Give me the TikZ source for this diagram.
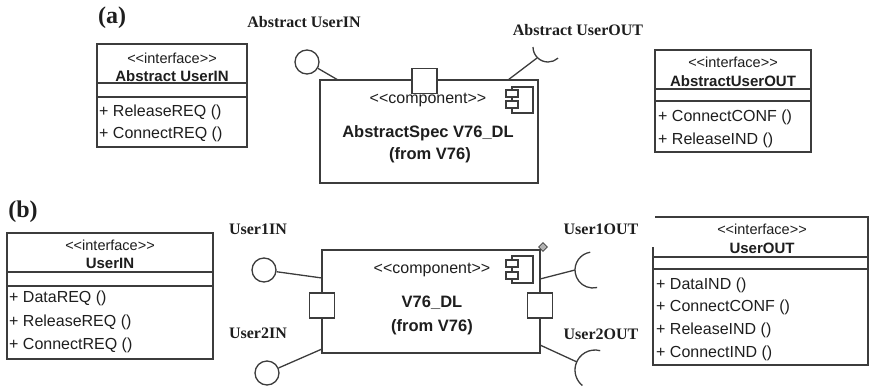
\documentclass[tikz,border=0pt]{standalone}
\usepackage{fontspec}
\setmainfont{Liberation Serif}
\newfontfamily\umlfont{Liberation Sans}
\usetikzlibrary{shapes.geometric}
\definecolor{ink}{HTML}{1E1E1E}
\definecolor{edge}{HTML}{3C3C3C}
\begin{document}
\begin{tikzpicture}[x=1pt,y=-1pt,
  line/.style={draw=edge, line width=1.3pt},
  boxline/.style={draw=edge, line width=1.5pt},
  ubox/.style={draw=edge, line width=1.5pt, rectangle, inner sep=0pt, fill=white},
  port/.style={draw=edge, line width=1.4pt, rectangle, inner sep=0pt, minimum size=25pt, fill=white},
  lolli/.style={draw=edge, line width=1.3pt, circle, inner sep=0pt, minimum size=24pt},
  tag/.style={font=\fontsize{24}{26}\selectfont\bfseries, text=ink, inner sep=0pt},
  lbl/.style={font=\fontsize{16}{18}\selectfont\bfseries, text=ink, inner sep=0pt},
  stereo/.style={font=\umlfont\fontsize{14.5}{16}\selectfont, text=ink, inner sep=0pt},
  iname/.style={font=\umlfont\fontsize{15}{17}\selectfont\bfseries, text=ink, inner sep=0pt},
  item/.style={font=\umlfont\fontsize{16}{18}\selectfont, text=ink, inner sep=0pt, anchor=west},
  ctext/.style={font=\umlfont\fontsize{16}{18}\selectfont, text=ink, inner sep=0pt},
  cname/.style={font=\umlfont\fontsize{16.5}{18}\selectfont\bfseries, text=ink, inner sep=0pt},
  icon/.style={draw=edge, line width=1.2pt, fill=white}
]
\useasboundingbox (0,0) rectangle (870,386);

% ================= (a) =================
\node[tag] (ta) at (112,18) {(a)};

% interface Abstract UserIN
\node[ubox, minimum width=150pt, minimum height=103pt] (aIn) at (172,95.5) {};
\draw[boxline] (97,83) -- (247,83);
\draw[boxline] (97,97) -- (247,97);
\node[stereo] (aInS) at (172,58) {<<interface>>};
\node[iname] (aInN) at (172,76) {Abstract UserIN};
\node[item] (aIn1) at (99,112) {+ ReleaseREQ ()};
\node[item] (aIn2) at (99,134) {+ ConnectREQ ()};

% interface AbstractUserOUT
\node[ubox, minimum width=156pt, minimum height=102pt] (aOut) at (733,101) {};
\draw[boxline] (655,89) -- (811,89);
\draw[boxline] (655,101) -- (811,101);
\node[stereo] (aOutS) at (733,62) {<<interface>>};
\node[iname] (aOutN) at (733,81) {AbstractUserOUT};
\node[item] (aOut1) at (658,117) {+ ConnectCONF ()};
\node[item] (aOut2) at (658,140) {+ ReleaseIND ()};

% component AbstractSpec
\node[ubox, minimum width=218pt, minimum height=103pt] (compA) at (429,131.5) {};
\node[port] (portA) at (424.5,81) {};
\node[ctext] (compAS) at (428,100) {<<component>>};
\node[cname] (compAN) at (428,133) {AbstractSpec V76\_DL};
\node[cname] (compAF) at (430,155) {(from V76)};
\draw[icon] (512,87) rectangle (533,113);
\draw[icon] (506,90) rectangle (518,97);
\draw[icon] (506,101) rectangle (518,108);

% provided interface (lollipop)
\node[lbl] (lAIn) at (304,22) {Abstract UserIN};
\node[lolli] (lolA) at (307,62) {};
\coordinate (attA) at (338,80);
\draw[line] (lolA) -- (attA);

% required interface (socket)
\node[lbl] (lAOut) at (578,30) {Abstract UserOUT};
\coordinate (attAo) at (508,80);
\coordinate (sockAc) at (548,47);
\coordinate (sockA) at (537,58);
\draw[line] (attAo) -- (sockA);
\draw[line] ([shift={(180:15pt)}]sockAc) arc[start angle=180, end angle=312, radius=15pt];

% ================= (b) =================
\node[tag] (tb) at (23,212) {(b)};

% interface UserIN
\node[ubox, minimum width=206pt, minimum height=126pt] (bIn) at (110,296) {};
\draw[boxline] (7,272) -- (213,272);
\draw[boxline] (7,286) -- (213,286);
\node[stereo] (bInS) at (110,245) {<<interface>>};
\node[iname] (bInN) at (110,263) {UserIN};
\node[item] (bIn1) at (9,298) {+ DataREQ ()};
\node[item] (bIn2) at (9,322) {+ ReleaseREQ ()};
\node[item] (bIn3) at (9,345) {+ ConnectREQ ()};

% interface UserOUT (left border open at top)
\coordinate (bOutNW) at (653,217);
\draw[boxline] (653,247) -- (653,365) -- (868,365) -- (868,217) -- (655,217);
\draw[boxline] (653,257) -- (868,257);
\draw[boxline] (653,269) -- (868,269);
\node[stereo] (bOutS) at (762,229) {<<interface>>};
\node[iname] (bOutN) at (762,248) {UserOUT};
\node[item] (bOut1) at (656,285) {+ DataIND ()};
\node[item] (bOut2) at (656,307) {+ ConnectCONF ()};
\node[item] (bOut3) at (656,330) {+ ReleaseIND ()};
\node[item] (bOut4) at (656,353) {+ ConnectIND ()};

% component V76_DL
\node[ubox, minimum width=218pt, minimum height=103pt] (compB) at (431,301.5) {};
\node[port] (portBl) at (322,305.5) {};
\node[port] (portBr) at (540,305.5) {};
\node[ctext] (compBS) at (432,270) {<<component>>};
\node[cname] (compBN) at (432,303) {V76\_DL};
\node[cname] (compBF) at (432,327) {(from V76)};
\draw[icon] (512,256) rectangle (533,283);
\draw[icon] (506,260) rectangle (518,267);
\draw[icon] (506,272) rectangle (518,279);
\node[diamond, draw=edge, fill=gray!60, line width=0.8pt, inner sep=0pt, minimum size=9pt] (dia) at (543,247) {};

% provided interfaces
\node[lbl] (lB1In) at (258,229) {User1IN};
\node[lbl] (lB2In) at (258,333) {User2IN};
\node[lolli] (lolB1) at (264,270) {};
\node[lolli] (lolB2) at (267,373) {};
\coordinate (attB1) at (322,278);
\coordinate (attB2) at (322,349);
\draw[line] (lolB1) -- (attB1);
\draw[line] (lolB2) -- (attB2);

% required interfaces
\node[lbl] (lB1Out) at (601,229) {User1OUT};
\node[lbl] (lB2Out) at (601,334) {User2OUT};
\coordinate (attB1o) at (540,279);
\coordinate (attB2o) at (540,345);
\coordinate (sockB1c) at (593,270);
\coordinate (sockB1) at (575,270);
\coordinate (sockB2c) at (595,370);
\coordinate (sockB2) at (577,362);
\draw[line] (attB1o) -- (sockB1);
\draw[line] (attB2o) -- (sockB2);
\draw[line] ([shift={(99:18pt)}]sockB1c) arc[start angle=99, end angle=283, radius=18pt];
\draw[line] ([shift={(75:20pt)}]sockB2c) arc[start angle=75, end angle=231, radius=20pt];

\end{tikzpicture}
\end{document}
